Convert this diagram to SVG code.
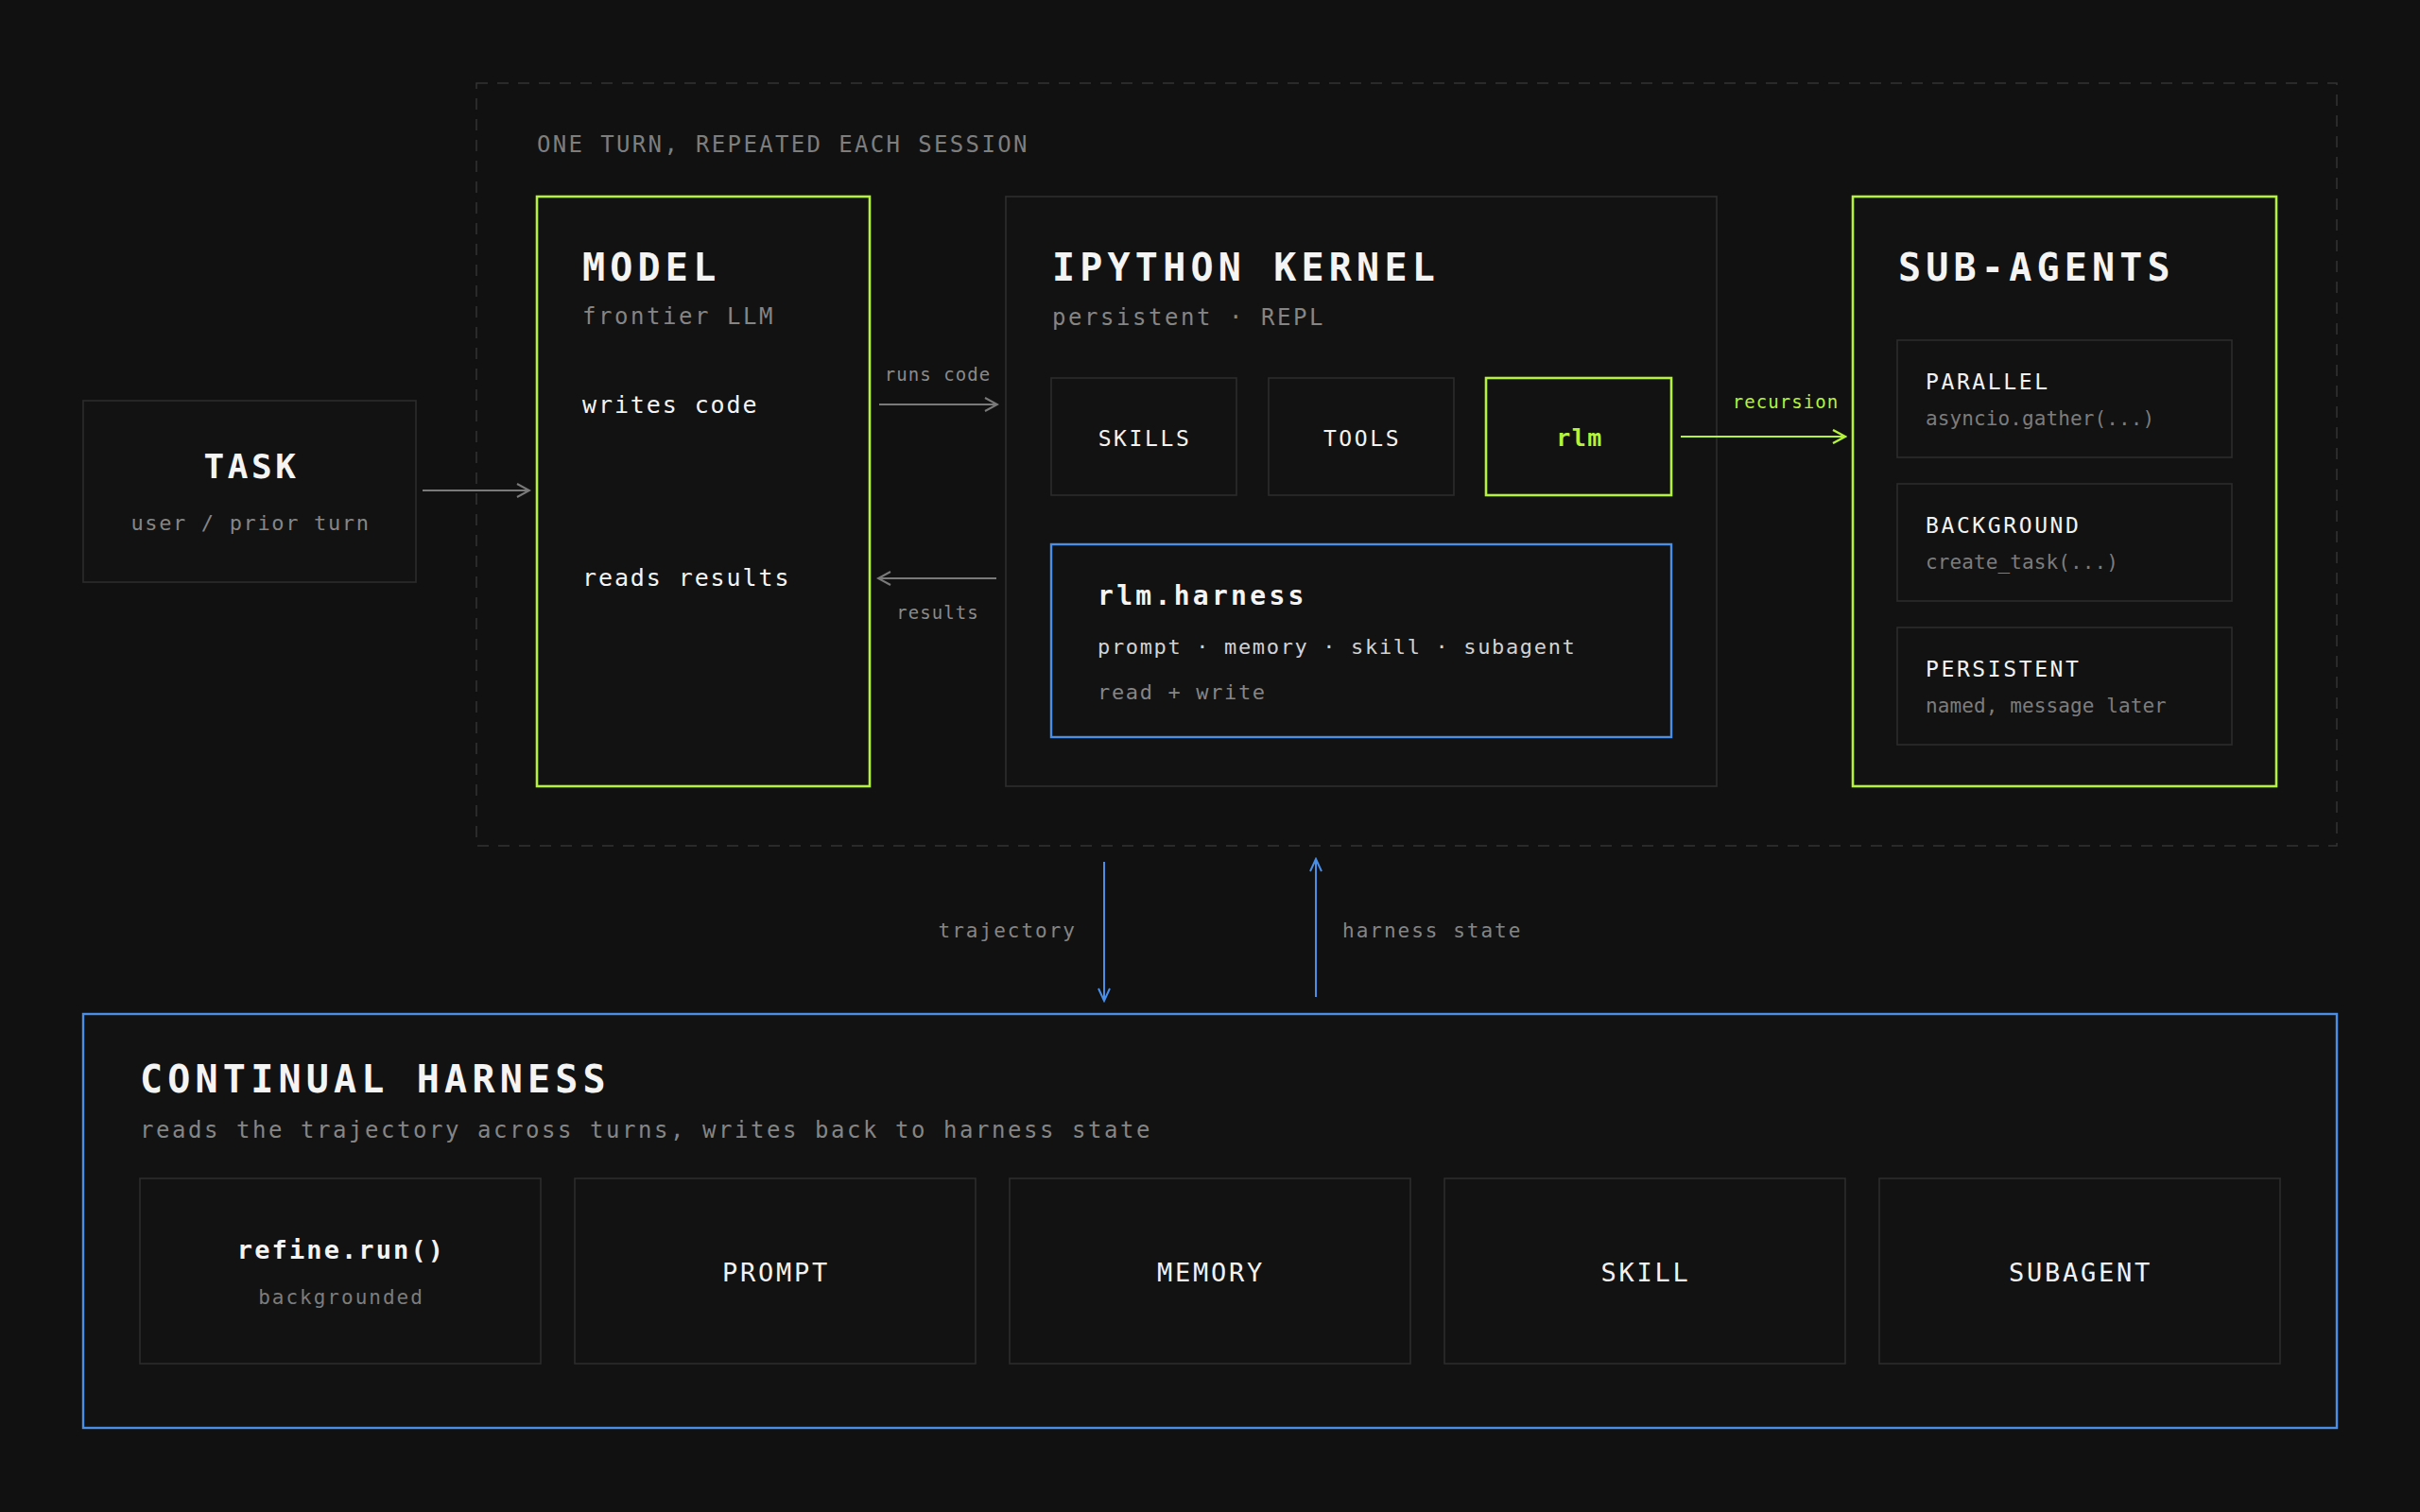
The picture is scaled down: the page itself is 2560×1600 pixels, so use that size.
<svg xmlns="http://www.w3.org/2000/svg" width="2560" height="1600" viewBox="0 0 2560 1600">
<defs>
<style>
text{font-family:"DejaVu Sans Mono","Liberation Mono",monospace;}
.box{fill:#121212;stroke:#2c2c2c;stroke-width:1.6;}
.green{fill:#121212;stroke:#b5f23b;stroke-width:2.6;}
.blue{fill:#121212;stroke:#4a8fe7;stroke-width:2.4;}
.h1{font-size:40px;font-weight:bold;letter-spacing:5.2px;fill:#f4f4f4;}
.h2{font-size:36px;font-weight:bold;letter-spacing:3.6px;fill:#f4f4f4;}
.sub{font-size:24px;letter-spacing:2.55px;fill:#858585;}
.body{font-size:25px;letter-spacing:1.9px;fill:#f4f4f4;}
.cap{font-size:23px;letter-spacing:2.6px;fill:#f2f2f2;}
.cap2{font-size:27px;letter-spacing:2.75px;fill:#f2f2f2;}
.code{font-size:28px;font-weight:bold;letter-spacing:3.3px;fill:#f4f4f4;}
.code2{font-size:27px;font-weight:bold;letter-spacing:2.1px;fill:#f4f4f4;}
.list{font-size:22px;letter-spacing:1.65px;fill:#d2d2d2;}
.note{font-size:22px;letter-spacing:1.65px;fill:#858585;}
.small{font-size:21px;letter-spacing:0.1px;fill:#7c7c7c;}
.lbl{font-size:19px;letter-spacing:1.05px;fill:#8a8a8a;}
.lbl2{font-size:21px;letter-spacing:2px;fill:#858585;}
.ln{fill:none;stroke-width:2;}
</style>
<marker id="ag" markerUnits="userSpaceOnUse" viewBox="0 0 16 16" refX="14" refY="8" markerWidth="16" markerHeight="16" orient="auto">
<path d="M1,1 L14,8 L1,15" fill="none" stroke="#7a7a7a" stroke-width="2"/>
</marker>
<marker id="agr" markerUnits="userSpaceOnUse" viewBox="0 0 16 16" refX="14" refY="8" markerWidth="16" markerHeight="16" orient="auto">
<path d="M1,1 L14,8 L1,15" fill="none" stroke="#b5f23b" stroke-width="2.4"/>
</marker>
<marker id="ab" markerUnits="userSpaceOnUse" viewBox="0 0 16 16" refX="14" refY="8" markerWidth="16" markerHeight="16" orient="auto">
<path d="M1,2 L14,8 L1,14" fill="none" stroke="#4a8fe7" stroke-width="2"/>
</marker>
</defs>
<rect x="0" y="0" width="2560" height="1600" fill="#111111"/>

<g id="turn-frame">
<rect x="504" y="88" width="1968" height="807" fill="none" stroke="#333333" stroke-width="1.5" stroke-dasharray="12 10"/>
<text x="568" y="161" class="sub" style="font-size:24px;letter-spacing:2.35px;fill:#7e7e7e">ONE TURN, REPEATED EACH SESSION</text>
</g>

<g id="task">
<rect x="88" y="424" width="352" height="192" class="box"/>
<text x="266" y="506" text-anchor="middle" class="h2">TASK</text>
<text x="265" y="561" text-anchor="middle" class="note">user / prior turn</text>
</g>

<g id="model">
<rect x="568" y="208" width="352" height="624" class="green"/>
<text x="616" y="297" class="h1">MODEL</text>
<text x="616" y="343" class="sub">frontier LLM</text>
<text x="616" y="437" class="body">writes code</text>
<text x="616" y="620" class="body">reads results</text>
</g>

<g id="ipython-kernel">
<rect x="1064" y="208" width="752" height="624" fill="#121212" stroke="#2e2e2e" stroke-width="1.6"/>
<text x="1113" y="297" class="h1">IPYTHON KERNEL</text>
<text x="1113" y="344" class="sub">persistent · REPL</text>
</g>

<g id="skills">
<rect x="1112" y="400" width="196" height="124" class="box"/>
<text x="1211" y="472" text-anchor="middle" class="cap">SKILLS</text>
</g>
<g id="tools">
<rect x="1342" y="400" width="196" height="124" class="box"/>
<text x="1441" y="472" text-anchor="middle" class="cap">TOOLS</text>
</g>
<g id="rlm">
<rect x="1572" y="400" width="196" height="124" class="green"/>
<text x="1671" y="472" text-anchor="middle" style="font-size:25px;font-weight:bold;letter-spacing:1.5px;fill:#b5f23b">rlm</text>
</g>

<g id="rlm-harness">
<rect x="1112" y="576" width="656" height="204" class="blue"/>
<text x="1161" y="640" class="code">rlm.harness</text>
<text x="1161" y="692" class="list">prompt · memory · skill · subagent</text>
<text x="1161" y="740" class="note">read + write</text>
</g>

<g id="sub-agents">
<rect x="1960" y="208" width="448" height="624" class="green"/>
<text x="2008" y="297" class="h1">SUB-AGENTS</text>
</g>
<g id="parallel">
<rect x="2007" y="360" width="354" height="124" class="box"/>
<text x="2037" y="412" class="cap">PARALLEL</text>
<text x="2037" y="450" class="small">asyncio.gather(...)</text>
</g>
<g id="background">
<rect x="2007" y="512" width="354" height="124" class="box"/>
<text x="2037" y="564" class="cap">BACKGROUND</text>
<text x="2037" y="602" class="small">create_task(...)</text>
</g>
<g id="persistent">
<rect x="2007" y="664" width="354" height="124" class="box"/>
<text x="2037" y="716" class="cap">PERSISTENT</text>
<text x="2037" y="754" class="small">named, message later</text>
</g>

<g id="continual-harness">
<rect x="88" y="1073" width="2384" height="438" class="blue"/>
<text x="148" y="1156" class="h1">CONTINUAL HARNESS</text>
<text x="148" y="1204" class="sub">reads the trajectory across turns, writes back to harness state</text>
</g>
<g id="refine-run">
<rect x="148" y="1247" width="424" height="196" class="box"/>
<text x="361" y="1332" text-anchor="middle" class="code2">refine.run()</text>
<text x="361" y="1380" text-anchor="middle" class="small" style="letter-spacing:2px">backgrounded</text>
</g>
<g id="prompt">
<rect x="608" y="1247" width="424" height="196" class="box"/>
<text x="821" y="1356" text-anchor="middle" class="cap2">PROMPT</text>
</g>
<g id="memory">
<rect x="1068" y="1247" width="424" height="196" class="box"/>
<text x="1281" y="1356" text-anchor="middle" class="cap2">MEMORY</text>
</g>
<g id="skill">
<rect x="1528" y="1247" width="424" height="196" class="box"/>
<text x="1741" y="1356" text-anchor="middle" class="cap2">SKILL</text>
</g>
<g id="subagent">
<rect x="1988" y="1247" width="424" height="196" class="box"/>
<text x="2201" y="1356" text-anchor="middle" class="cap2">SUBAGENT</text>
</g>

<g id="connectors">
<line x1="447" y1="519" x2="560" y2="519" class="ln" stroke="#7a7a7a" marker-end="url(#ag)"/>
<line x1="930" y1="428" x2="1055" y2="428" class="ln" stroke="#7a7a7a" marker-end="url(#ag)"/>
<text x="992" y="403" text-anchor="middle" class="lbl">runs code</text>
<line x1="1054" y1="612" x2="929" y2="612" class="ln" stroke="#7a7a7a" marker-end="url(#ag)"/>
<text x="992" y="655" text-anchor="middle" class="lbl">results</text>
<line x1="1778" y1="462" x2="1952" y2="462" class="ln" stroke="#b5f23b" stroke-width="2.4" marker-end="url(#agr)"/>
<text x="1889" y="432" text-anchor="middle" class="lbl" style="fill:#b5f23b">recursion</text>
<line x1="1168" y1="912" x2="1168" y2="1059" class="ln" stroke="#4a8fe7" marker-end="url(#ab)"/>
<text x="1139" y="992" text-anchor="end" class="lbl2">trajectory</text>
<line x1="1392" y1="1055" x2="1392" y2="909" class="ln" stroke="#4a8fe7" marker-end="url(#ab)"/>
<text x="1420" y="992" class="lbl2">harness state</text>
</g>
</svg>
